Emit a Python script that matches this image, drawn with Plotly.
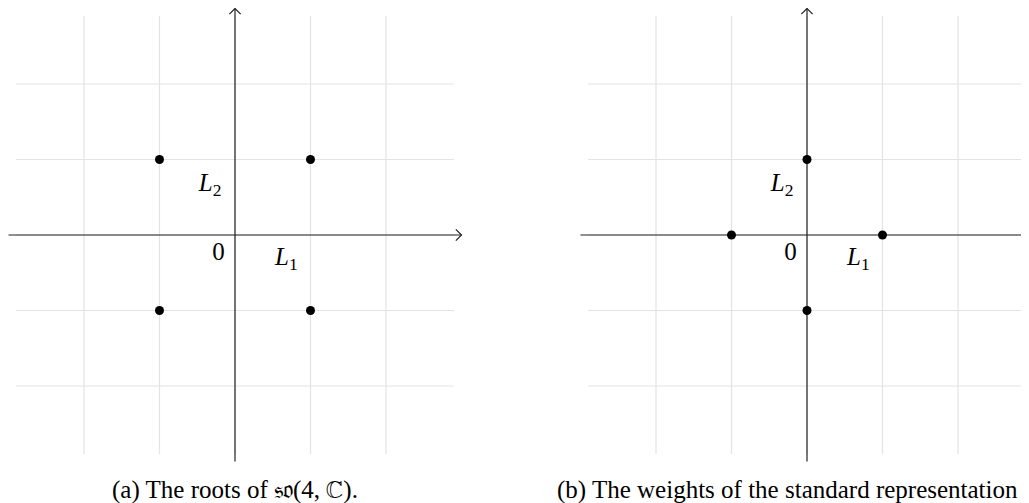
import plotly.graph_objects as go

# page body has an 8px margin, so the figure is sized to the visible area
W, H = 1021, 495
UNIT = 75.5

grid_ticks = [-2, -1, 0, 1, 2]
grid_extent = 2.9
axis_extent = 3.0

roots_x = [-1, 1, -1, 1]
roots_y = [1, 1, -1, -1]
weights_x = [-1, 1, 0, 0]
weights_y = [0, 0, 1, -1]

label_text = ["0", "<i>L</i><sub>1</sub>", "<i>L</i><sub>2</sub>"]
label_x = [-0.22, 0.68, -0.33]
label_y = [-0.25, -0.31, 0.67]

caption_a = "(a) The roots of 𝔰𝔬(4, ℂ)."
caption_b = "(b) The weights of the standard representation of 𝔰𝔬(4, ℂ)."

FONT = "Liberation Serif"
fig = go.Figure()

panels = [
    dict(ox=227, oy=227, xr="x", yr="y", px=roots_x, py=roots_y, x0=0, x1=462),
    dict(ox=799, oy=227, xr="x2", yr="y2", px=weights_x, py=weights_y, x0=564, x1=1021),
]

for i, p in enumerate(panels):
    sfx = "" if i == 0 else "2"
    xrange = [(p["x0"] - p["ox"]) / UNIT, (p["x1"] - p["ox"]) / UNIT]
    yrange = [(p["oy"] - 462) / UNIT, p["oy"] / UNIT]
    fig.update_layout(**{
        "xaxis" + sfx: dict(domain=[p["x0"] / W, p["x1"] / W], range=xrange, visible=False,
                           anchor="y" + sfx, fixedrange=True),
        "yaxis" + sfx: dict(domain=[(H - 462) / H, 1], range=yrange, visible=False,
                           anchor="x" + sfx, fixedrange=True),
    })
    gx, gy = [], []
    for t in grid_ticks:
        gx += [t, t, None, -grid_extent, grid_extent, None]
        gy += [-grid_extent, grid_extent, None, t, t, None]
    fig.add_trace(go.Scatter(x=gx, y=gy, mode="lines", xaxis=p["xr"], yaxis=p["yr"],
                             line=dict(color="#e3e3e3", width=1.2), hoverinfo="skip", showlegend=False))
    a = axis_extent
    h = 0.075
    ax_x = [-a, a, None, a - h, a, a - h, None, 0, 0, None, -h, 0, h]
    ax_y = [0, 0, None, h, 0, -h, None, -a, a, None, a - h, a, a - h]
    fig.add_trace(go.Scatter(x=ax_x, y=ax_y, mode="lines", xaxis=p["xr"], yaxis=p["yr"],
                             line=dict(color="#222222", width=1.2), hoverinfo="skip", showlegend=False))
    fig.add_trace(go.Scatter(x=p["px"], y=p["py"], mode="markers", xaxis=p["xr"], yaxis=p["yr"],
                             marker=dict(color="black", size=9), showlegend=False))
    fig.add_trace(go.Scatter(x=label_x, y=label_y, mode="text", text=label_text,
                             xaxis=p["xr"], yaxis=p["yr"], textposition="middle center",
                             textfont=dict(family=FONT, size=25, color="black"),
                             hoverinfo="skip", showlegend=False))

fig.add_annotation(text=caption_a, x=227 / W, y=(H - 482) / H, xref="paper", yref="paper",
                   xanchor="center", yanchor="middle", showarrow=False,
                   font=dict(family=FONT, size=25, color="black"))
fig.add_annotation(text=caption_b, x=547 / W, y=(H - 482) / H, xref="paper", yref="paper",
                   xanchor="left", yanchor="middle", showarrow=False,
                   font=dict(family=FONT, size=25, color="black"))

fig.update_layout(width=W, height=H, margin=dict(l=0, r=0, t=0, b=0),
                  paper_bgcolor="white", plot_bgcolor="white")
fig.write_html("out.html")
